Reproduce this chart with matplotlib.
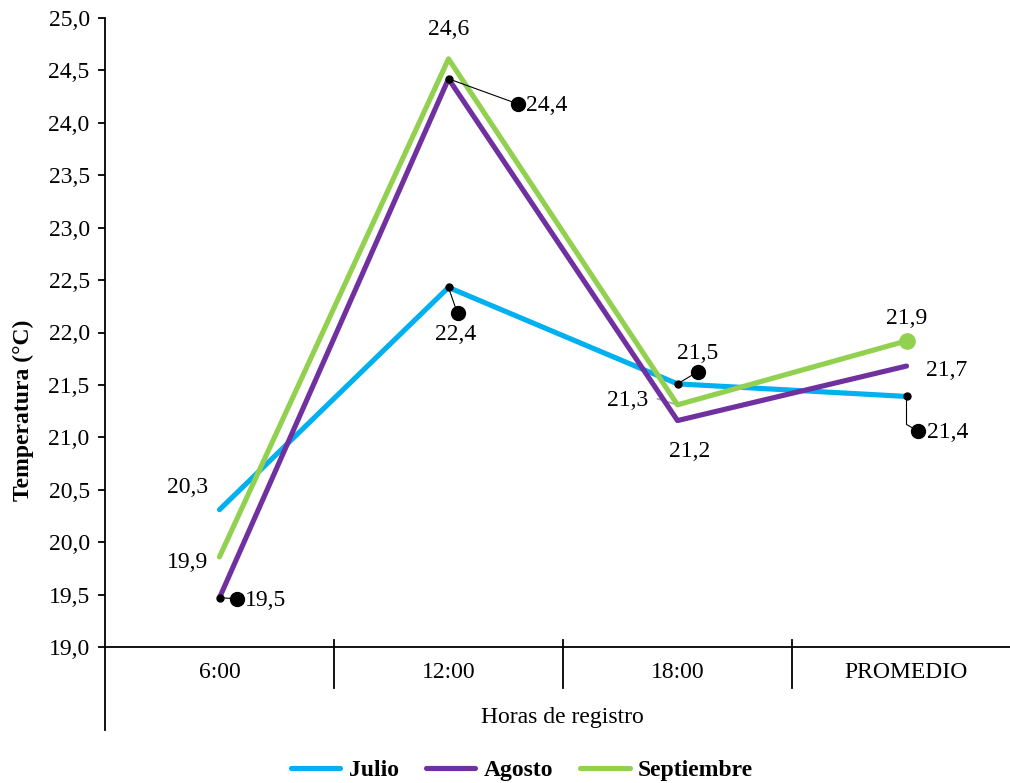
import numpy as np
import matplotlib
matplotlib.use("Agg")
import matplotlib.pyplot as plt
from matplotlib.lines import Line2D

categories = ["6:00", "12:00", "18:00", "PROMEDIO"]
julio = [20.31, 22.43, 21.51, 21.39]
agosto = [19.47, 24.42, 21.16, 21.68]
septiembre = [19.86, 24.61, 21.31, 21.92]
series_names = ["Julio", "Agosto", "Septiembre"]
colors = ["#00B0F0", "#7030A0", "#92D050"]

plt.rcParams["font.family"] = ["Liberation Serif", "DejaVu Serif"]
FS = 17

fig = plt.figure(figsize=(10.10, 7.83), dpi=100)
ax = fig.add_axes([105 / 1010, 1 - 647 / 783, (1021 - 105) / 1010, (647 - 18) / 783])

x = np.arange(len(categories))
for vals, name, c in zip([julio, agosto, septiembre], series_names, colors):
    ax.plot(x, vals, color=c, lw=3.7, solid_capstyle="round", label=name, zorder=3)

ax.set_xlim(-0.5, 3.5)
ax.set_ylim(19.0, 25.0)
ax.set_yticks(np.arange(19.0, 25.01, 0.5))
ax.set_yticklabels([f"{v:.1f}".replace(".", ",") for v in np.arange(19.0, 25.01, 0.5)])
ax.tick_params(axis="y", direction="out", length=5, width=1.3, labelsize=FS, pad=6)
ax.set_xticks(x)
ax.set_xticklabels(categories)
ax.tick_params(axis="x", length=0, labelsize=FS, pad=11)

for s in ["top", "right"]:
    ax.spines[s].set_visible(False)
ax.spines["left"].set_linewidth(1.3)
ax.spines["bottom"].set_linewidth(1.3)

# multi-level category axis lines
tr = ax.transAxes
ax.add_line(Line2D([0, 0], [0, -83 / 629], transform=tr, color="black", lw=1.3, clip_on=False))
for sep in [0.5, 1.5, 2.5]:
    xf = (sep + 0.5) / 4
    ax.add_line(Line2D([xf, xf], [7 / 629, -41 / 629], transform=tr, color="black", lw=1.3, clip_on=False))
ax.text((562 - 105) / (1021 - 105), -70 / 629, "Horas de registro", transform=tr,
        ha="center", va="center", fontsize=FS)

fig.text(23 / 1010, 1 - 410 / 783, "Temperatura (°C)", rotation=90, ha="center", va="center",
         fontsize=FS, fontweight="bold")

def lab(v):
    return f"{v:.1f}".replace(".", ",")

# plain labels (offsets in points)
plain = [
    (0, julio[0], -23, 16),
    (0, septiembre[0], -23, -4),
    (1, septiembre[1], 0, 21),
    (2, agosto[2], 9, -22),
    (2, septiembre[2], -36, 3),
    (3, septiembre[3], 0, 16),
    (3, agosto[3], 29, -3),
]
for xi, v, dx, dy in plain:
    ax.annotate(lab(v), (xi, v), xytext=(dx, dy), textcoords="offset points",
                ha="center", va="center", fontsize=FS, zorder=5)

# green end marker
ax.plot([3], [septiembre[3]], "o", color=colors[2], ms=11, zorder=4)

# leader-line labels: (x, value, bigdot dx, bigdot dy in px, text side)
leaders = [
    (1, julio[1], 9, -26, "below"),
    (1, agosto[1], 69, -25, "right"),
    (2, julio[2], 20, 12, "above"),
    (0, agosto[0], 17, -1, "right"),
]
inv = ax.transData.inverted()
for xi, v, dx, dy, side in leaders:
    px, py = ax.transData.transform((xi, v))
    bx, by = inv.transform((px + dx, py + dy))
    ax.plot([xi, bx], [v, by], color="black", lw=0.8, zorder=5)
    ax.plot([xi], [v], "o", color="black", ms=5, zorder=6)
    ax.plot([bx], [by], "o", color="black", ms=10, zorder=6)
    if side == "right":
        ax.annotate(lab(v), (bx, by), xytext=(6, -1), textcoords="offset points",
                    ha="left", va="center", fontsize=FS, zorder=5)
    elif side == "below":
        ax.annotate(lab(v), (bx, by), xytext=(-1, -15), textcoords="offset points",
                    ha="center", va="center", fontsize=FS, zorder=5)
    else:
        ax.annotate(lab(v), (bx, by), xytext=(0, 13), textcoords="offset points",
                    ha="center", va="center", fontsize=FS, zorder=5)

# Julio promedio: elbow leader
px, py = ax.transData.transform((3, julio[3]))
e1 = inv.transform((px, py - 28))
e2 = inv.transform((px + 12, py - 35))
ax.plot([3, e1[0], e2[0]], [julio[3], e1[1], e2[1]], color="black", lw=0.8, zorder=5)
ax.plot([3], [julio[3]], "o", color="black", ms=5, zorder=6)
ax.plot([e2[0]], [e2[1]], "o", color="black", ms=10, zorder=6)
ax.annotate(lab(julio[3]), (e2[0], e2[1]), xytext=(6, -1), textcoords="offset points",
            ha="left", va="center", fontsize=FS, zorder=5)

# Septiembre 18:00 grey leader
sx, sy = ax.transData.transform((2, septiembre[2]))
g0 = inv.transform((sx - 20, sy + 6))
ax.plot([g0[0], 2], [g0[1], septiembre[2]], color="#A6A6A6", lw=1.2, zorder=2)

leg = fig.legend(loc="center", bbox_to_anchor=(522 / 1010, 13 / 783), ncol=3,
                 frameon=False, prop={"weight": "bold", "size": FS},
                 handlelength=2.1, handletextpad=0.35, columnspacing=1.15)

fig.savefig("out.png", dpi=100)
